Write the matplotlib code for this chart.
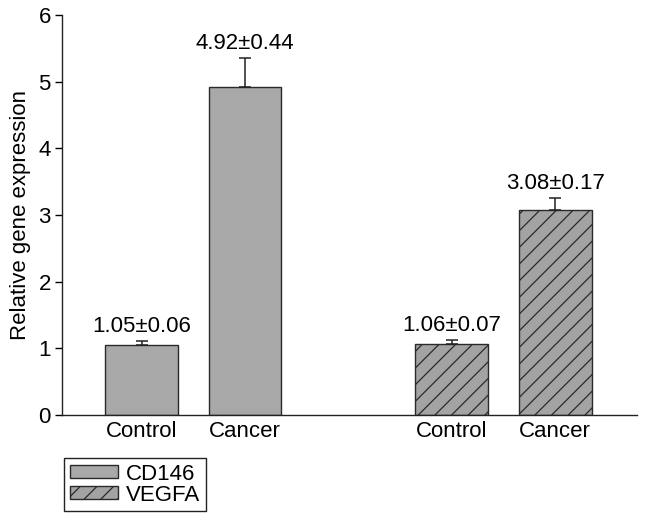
import matplotlib
matplotlib.use("Agg")
import matplotlib.pyplot as plt
from matplotlib.patches import Patch

plt.rcParams['font.family'] = ['Liberation Sans', 'DejaVu Sans']

categories = ["Control", "Cancer", "Control", "Cancer"]
genes = ["CD146", "VEGFA"]
cd146_means = [1.05, 4.92]
cd146_errs = [0.06, 0.44]
vegfa_means = [1.06, 3.08]
vegfa_errs = [0.07, 0.17]
positions = [0, 1, 3, 4]

fs = 16

fig = plt.figure(figsize=(6.46, 5.21), dpi=100)
ax = fig.add_axes([0.096, 0.2035, 0.89, 0.7675])

width = 0.705
face1 = "#a8a8a8"
face2 = "#a3a3a3"
edge = "#2a2a2a"

plt.rcParams['hatch.linewidth'] = 0.9
plt.rcParams['hatch.color'] = "#333333"
b1 = ax.bar(positions[:2], cd146_means, width=width, color=face1,
            edgecolor=edge, linewidth=1.0, zorder=2)
b2 = ax.bar(positions[2:], vegfa_means, width=width, color=face2,
            edgecolor=edge, linewidth=1.0, hatch='//', zorder=2)

means = cd146_means + vegfa_means
errs = cd146_errs + vegfa_errs
ax.errorbar(positions, means, yerr=[[0]*4, errs], fmt='none', ecolor='#222222',
            elinewidth=1.1, capsize=4.5, capthick=1.1, zorder=3)

for x, m, e in zip(positions, means, errs):
    ax.annotate(f"{m:.2f}\u00b1{e:.2f}", xy=(x, m + e), xytext=(0, 3),
                textcoords='offset points', ha='center', va='bottom', fontsize=fs)

ax.set_xlim(-0.77, 4.79)
ax.set_ylim(0, 6)
ax.set_yticks(range(7))
ax.set_xticks(positions)
ax.set_xticklabels(categories, fontsize=fs)
ax.tick_params(axis='x', length=0, pad=4)
ax.tick_params(axis='y', length=5, width=1, labelsize=fs, direction='out', pad=3)
ax.set_ylabel("Relative gene expression", fontsize=fs, labelpad=5)
for s in ['top', 'right']:
    ax.spines[s].set_visible(False)
for s in ['left', 'bottom']:
    ax.spines[s].set_linewidth(1.0)
    ax.spines[s].set_color('#222222')

handles = [Patch(facecolor=face1, edgecolor=edge, label=genes[0]),
           Patch(facecolor=face2, edgecolor=edge, hatch='//', label=genes[1])]
leg = fig.legend(handles=handles, loc='upper left',
                 bbox_to_anchor=(64/646, 1 - 458/521), fontsize=fs,
                 fancybox=False, edgecolor='#222222', framealpha=1,
                 handlelength=2.2, handleheight=0.5, labelspacing=0.0,
                 borderpad=0.25, handletextpad=0.35, borderaxespad=0)
leg.get_frame().set_linewidth(1.0)

fig.savefig("out.png", dpi=100)
